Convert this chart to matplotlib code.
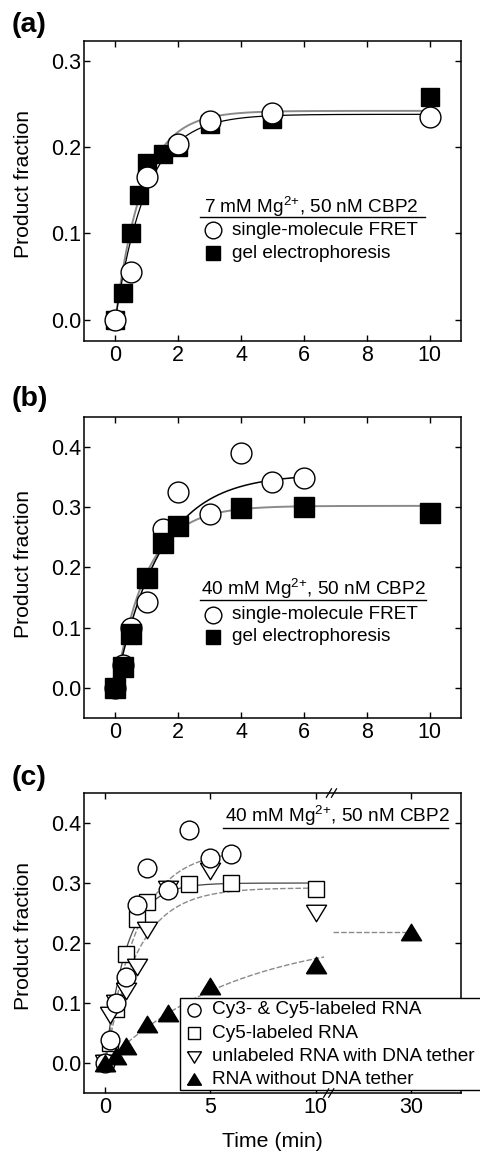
import numpy as np
import matplotlib
matplotlib.use("Agg")
import matplotlib.pyplot as plt
from matplotlib.patches import Rectangle
from matplotlib.transforms import blended_transform_factory

plt.rcParams["font.family"] = "Liberation Sans"
plt.rcParams["mathtext.fontset"] = "custom"
plt.rcParams["mathtext.rm"] = "Liberation Sans"
plt.rcParams["mathtext.default"] = "regular"

# ---- (a) 7 mM Mg2+, 50 nM CBP2 ----
a_fret_t = [0, 0.5, 1, 2, 3, 5, 10]
a_fret_y = [0.0, 0.055, 0.165, 0.204, 0.230, 0.240, 0.235]
a_gel_t = [0, 0.25, 0.5, 0.75, 1, 1.5, 2, 3, 5, 10]
a_gel_y = [0.0, 0.031, 0.100, 0.144, 0.181, 0.192, 0.200, 0.227, 0.232, 0.258]
# single-exponential fits: (amplitude, rate in 1/min)
a_fit_fret = (0.238, 1.0)
a_fit_gel = (0.242, 1.15)

# ---- (b) 40 mM Mg2+, 50 nM CBP2 ----
b_fret_t = [0, 0.25, 0.5, 1, 1.5, 2, 3, 4, 5, 6]
b_fret_y = [0.0, 0.038, 0.100, 0.143, 0.263, 0.325, 0.289, 0.389, 0.341, 0.349]
b_gel_t = [0, 0.25, 0.5, 1, 1.5, 2, 4, 6, 10]
b_gel_y = [0.0, 0.034, 0.090, 0.182, 0.240, 0.269, 0.298, 0.300, 0.290]
b_fit_fret = (0.355, 0.71)
b_fit_gel = (0.302, 1.0)

# ---- (c) constructs at 40 mM Mg2+ ----
c_cy35_t = [0, 0.25, 0.5, 1, 1.5, 2, 3, 4, 5, 6]
c_cy35_y = [0.0, 0.038, 0.100, 0.143, 0.263, 0.325, 0.289, 0.389, 0.341, 0.349]
c_cy5_t = [0, 0.25, 0.5, 1, 1.5, 2, 4, 6, 10]
c_cy5_y = [0.0, 0.034, 0.090, 0.182, 0.240, 0.269, 0.298, 0.300, 0.290]
c_tether_t = [0, 0.25, 0.5, 1, 1.5, 2, 3, 5, 10]
c_tether_y = [0.0, 0.080, 0.100, 0.120, 0.160, 0.222, 0.290, 0.320, 0.250]
c_free_t = [0, 0.5, 1, 2, 3, 5, 10, 30]
c_free_y = [0.0, 0.012, 0.028, 0.065, 0.083, 0.128, 0.164, 0.218]
c_fit_cy35 = (0.355, 0.65)
c_fit_cy5 = (0.300, 1.0)
c_fit_tether = (0.292, 0.65)
c_fit_free = (0.218, 0.16)
c_xticks = [0, 5, 10, 30]

POS_30 = 14.55   # axis position of the 30 min point after the break
BREAK_POS = 10.7


def c_axis(t):
    t = np.asarray(t, dtype=float)
    return np.where(t > 10.5, POS_30 + (t - 30) * 0.2, t)


def first_order(t, amp, rate):
    return amp * (1 - np.exp(-rate * t))


TRI_DOWN = [(-1, 0.82), (1, 0.82), (0, -0.82), (-1, 0.82)]
TRI_UP = [(-1, -0.82), (1, -0.82), (0, 0.82), (-1, -0.82)]

fig = plt.figure(figsize=(4.81, 11.53), dpi=100)
ax_a = fig.add_axes([0.1746, 0.7042, 0.7838, 0.2602])
ax_b = fig.add_axes([0.1746, 0.3773, 0.7838, 0.2613])
ax_c = fig.add_axes([0.1746, 0.0520, 0.7838, 0.2602])

grey = "#8a8a8a"


def style_axes(ax):
    for s in ax.spines.values():
        s.set_linewidth(1.1)
    ax.tick_params(direction="in", top=True, right=True, length=4.5, width=1.0,
                   labelsize=15.5)
    ax.tick_params(axis="x", pad=3)
    ax.tick_params(axis="y", pad=2)
    ax.set_ylabel("Product fraction", fontsize=15.2)


def key(ax, y, marker, ms, face, label, xm=0.342, xt=0.392):
    ax.plot([xm], [y], marker=marker, ms=ms, mfc=face, mec="black", mew=1.0,
            ls="none", transform=ax.transAxes, clip_on=False, zorder=12)
    ax.text(xt, y, label, transform=ax.transAxes, fontsize=13.7,
            va="center", ha="left", zorder=12)


def heading(ax, xc, y_text, x0, x1, y_line, label):
    ax.text(xc, y_text, label, transform=ax.transAxes, fontsize=13.7,
            ha="center", va="baseline", zorder=12)
    ax.plot([x0, x1], [y_line, y_line], color="black", lw=1.0,
            transform=ax.transAxes, clip_on=False, zorder=12)


# ---------------- panel (a) ----------------
tt = np.linspace(0, 10, 300)
ax_a.plot(tt, first_order(tt, *a_fit_gel), color=grey, lw=1.4, zorder=1)
ax_a.plot(tt, first_order(tt, *a_fit_fret), color="black", lw=0.9, zorder=2)
ax_a.plot(a_gel_t, a_gel_y, "s", ms=12.5, mfc="black", mec="black", zorder=3)
ax_a.plot(a_fret_t, a_fret_y, "o", ms=15, mfc="white", mec="black", mew=1.0, zorder=4)
ax_a.set_xlim(-1, 11)
ax_a.set_ylim(-0.025, 0.323)
ax_a.set_xticks([0, 2, 4, 6, 8, 10])
ax_a.set_yticks([0.0, 0.1, 0.2, 0.3])
ax_a.set_yticklabels(["0.0", "0.1", "0.2", "0.3"])
style_axes(ax_a)
ax_a.yaxis.set_label_coords(-0.135, 0.523)
heading(ax_a, 0.603, 0.428, 0.308, 0.905, 0.415, "7 mM Mg$^{2{+}}$, 50 nM CBP2")
key(ax_a, 0.37, "o", 12, "white", "single-molecule FRET")
key(ax_a, 0.292, "s", 10.5, "black", "gel electrophoresis")

# ---------------- panel (b) ----------------
ax_b.plot(tt, first_order(tt, *b_fit_gel), color=grey, lw=1.4, zorder=1)
t6 = np.linspace(0, 6, 200)
ax_b.plot(t6, first_order(t6, *b_fit_fret), color="black", lw=1.1, zorder=2)
ax_b.plot(b_fret_t, b_fret_y, "o", ms=15, mfc="white", mec="black", mew=1.0, zorder=3)
ax_b.plot(b_gel_t, b_gel_y, "s", ms=14, mfc="black", mec="black", zorder=4)
ax_b.set_xlim(-1, 11)
ax_b.set_ylim(-0.05, 0.45)
ax_b.set_xticks([0, 2, 4, 6, 8, 10])
ax_b.set_yticks([0.0, 0.1, 0.2, 0.3, 0.4])
ax_b.set_yticklabels(["0.0", "0.1", "0.2", "0.3", "0.4"])
style_axes(ax_b)
ax_b.yaxis.set_label_coords(-0.135, 0.511)
heading(ax_b, 0.608, 0.408, 0.308, 0.907, 0.392, "40 mM Mg$^{2{+}}$, 50 nM CBP2")
key(ax_b, 0.342, "o", 12, "white", "single-molecule FRET", xm=0.343)
key(ax_b, 0.270, "s", 10.5, "black", "gel electrophoresis", xm=0.343)

# ---------------- panel (c) ----------------
dash = (0, (4, 1.5))
ax_c.plot(t6, first_order(t6, *c_fit_cy35), color=grey, lw=1.0, ls=dash, zorder=1)
ax_c.plot(tt, first_order(tt, *c_fit_cy5), color="#444444", lw=0.9, zorder=1)
ax_c.plot(tt, first_order(tt, *c_fit_tether), color=grey, lw=1.0, ls=dash, zorder=1)
t_free = np.linspace(0, 10.4, 200)
ax_c.plot(t_free, first_order(t_free, *c_fit_free), color=grey, lw=1.0, ls=dash, zorder=1)
ax_c.plot([BREAK_POS + 0.1, POS_30], [c_fit_free[0], c_fit_free[0]],
          color=grey, lw=1.0, ls=dash, zorder=1)

ax_c.plot(c_axis(c_cy5_t), c_cy5_y, "s", ms=11.5, mfc="white", mec="black", mew=1.0, zorder=3)
ax_c.plot(c_axis(c_tether_t), c_tether_y, marker=TRI_DOWN, ls="none", ms=14.5,
          mfc="white", mec="black", mew=1.0, zorder=4)
ax_c.plot(c_axis(c_cy35_t), c_cy35_y, "o", ms=13.5, mfc="white", mec="black", mew=1.0, zorder=5)
ax_c.plot(c_axis(c_free_t), c_free_y, marker=TRI_UP, ls="none", ms=14.5,
          mfc="black", mec="black", mew=1.0, zorder=6)

ax_c.set_xlim(-1, 16.9)
ax_c.set_ylim(-0.05, 0.45)
ax_c.set_xticks(c_axis(c_xticks))
ax_c.set_xticklabels([str(v) for v in c_xticks])
ax_c.set_yticks([0.0, 0.1, 0.2, 0.3, 0.4])
ax_c.set_yticklabels(["0.0", "0.1", "0.2", "0.3", "0.4"])
style_axes(ax_c)
ax_c.yaxis.set_label_coords(-0.135, 0.524)
ax_c.set_xlabel("Time (min)", fontsize=15.3)
ax_c.xaxis.set_label_coords(0.5, -0.13)

# axis break marks
bt = blended_transform_factory(ax_c.transData, ax_c.transAxes)
for yb, xb in [(1.0, 10.75), (0.0, 10.62)]:
    for dx in (-0.12, 0.12):
        ax_c.plot([xb + dx - 0.12, xb + dx + 0.12], [yb - 0.014, yb + 0.014],
                  color="black", lw=0.9, transform=bt, clip_on=False, zorder=13)

heading(ax_c, 0.672, 0.904, 0.368, 0.966, 0.882, "40 mM Mg$^{2{+}}$, 50 nM CBP2")

box = Rectangle((0.255, 0.01), 0.82, 0.308, transform=ax_c.transAxes,
                facecolor="white", edgecolor="black", lw=1.0, clip_on=False, zorder=11)
ax_c.add_patch(box)
key(ax_c, 0.277, "o", 9.5, "white", "Cy3- & Cy5-labeled RNA", xm=0.293, xt=0.340)
key(ax_c, 0.199, "s", 8, "white", "Cy5-labeled RNA", xm=0.293, xt=0.340)
key(ax_c, 0.121, TRI_DOWN, 10, "white", "unlabeled RNA with DNA tether", xm=0.293, xt=0.340)
key(ax_c, 0.046, TRI_UP, 10, "black", "RNA without DNA tether", xm=0.293, xt=0.340)

# panel letters
for ypx, letter in [(12, "(a)"), (386, "(b)"), (765, "(c)")]:
    fig.text(12 / 481, 1 - ypx / 1153, letter, fontsize=20.5, fontweight="bold",
             va="top", ha="left")

fig.savefig("out.png", dpi=100)
